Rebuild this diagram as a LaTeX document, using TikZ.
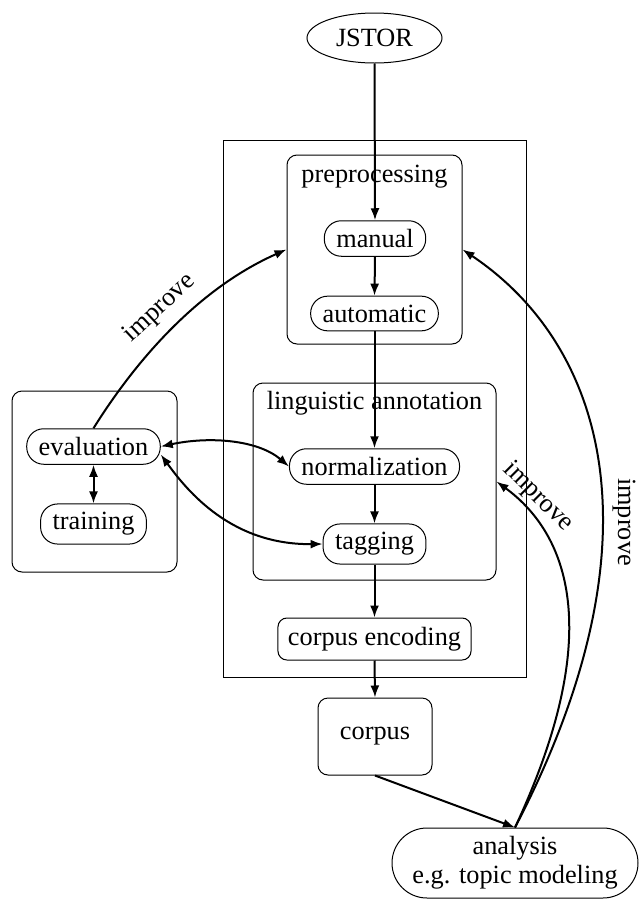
\documentclass[tikz,border=0pt]{standalone}
\usepackage{fontspec}
\setmainfont{Liberation Serif}
\usetikzlibrary{arrows.meta,shapes.geometric}
\begin{document}
\begin{tikzpicture}[x=1pt,y=-1pt,
  every node/.style={font=\fontsize{26.3}{29}\selectfont},
  pill/.style={draw, line width=1pt, rounded corners=17pt, inner xsep=12pt, inner ysep=8.5pt},
  groupbox/.style={draw, line width=1pt, rounded corners=10pt, inner sep=0pt},
  plainbox/.style={draw, line width=1pt, rounded corners=9pt},
  conn/.style={line width=2pt, -{Latex[length=12pt,width=9pt]}},
  biconn/.style={line width=2pt, {Latex[length=12pt,width=9pt]}-{Latex[length=12pt,width=9pt]}},
  lbl/.style={inner sep=0pt}
]
\useasboundingbox (0,0) rectangle (638,900);

% outer frame
\node[draw, line width=1pt, inner sep=0pt, minimum width=303pt, minimum height=537pt] (outer) at (374.5,408.5) {};

% group boxes
\node[groupbox, minimum width=175pt, minimum height=189pt] (pre) at (374.5,249.5) {};
\node[lbl] (prelbl) at (374.5,177) {preprocessing};
\node[groupbox, minimum width=243pt, minimum height=197pt] (ling) at (374.5,481.5) {};
\node[lbl] (linglbl) at (374.5,403) {linguistic annotation};
\node[groupbox, minimum width=165pt, minimum height=181pt] (left) at (94.5,481.5) {};

% nodes
\node[draw, ellipse, line width=1pt, inner sep=0pt, minimum width=135pt, minimum height=50pt] (jstor) at (374.5,38) {JSTOR};
\node[pill] (manual) at (375,238.5) {manual};
\node[pill] (auto) at (374.5,313.5) {automatic};
\node[pill] (norm) at (374.5,466.5) {normalization};
\node[pill] (tag) at (374.5,544) {tagging};
\node[plainbox, inner xsep=10pt, minimum height=42pt] (enc) at (374.5,639) {corpus encoding};
\node[plainbox, rounded corners=10pt, minimum width=114pt, minimum height=77pt] (corpus) at (375,736.5) {corpus};
\node[pill] (eval) at (93.5,446.5) {evaluation};
\node[pill] (train) at (93.5,524) {training};
\node[draw, line width=1pt, rounded corners=35pt, minimum width=246pt, minimum height=70pt, inner sep=0pt, align=center] (analysis) at (515,863) {analysis\\e.g. topic modeling};

% connectors
\draw[conn] (jstor.south) -- (manual.north);
\draw[conn] (manual.south) -- (auto.north);
\draw[conn] (auto.south) -- (norm.north);
\draw[conn] (norm.south) -- (tag.north);
\draw[conn] (tag.south) -- (enc.north);
\draw[conn] (enc.south) -- (corpus.north);
\draw[conn] (corpus.south) -- (analysis.north);
\draw[biconn] (eval.south) -- (train.north);
\draw[biconn] (eval.east) .. controls (210,436) and (258,440) .. (norm.west);
\draw[biconn] ([yshift=-8pt]eval.east) .. controls (188,492) and (232,545) .. (tag.west);
\draw[conn] (eval.north) .. controls (133,365) and (195,290) .. (pre.west);
\draw[conn] (analysis.north) .. controls (665,540) and (605,345) .. (pre.east);
\draw[conn] (analysis.north) .. controls (612,620) and (560,528) .. (ling.east);

% labels
\node[lbl, rotate=43] (imp1) at (160,308) {improve};
\node[lbl, rotate=-45] (imp2) at (538,497) {improve};
\node[lbl, rotate=-90] (imp3) at (624,522) {improve};
\end{tikzpicture}
\end{document}
